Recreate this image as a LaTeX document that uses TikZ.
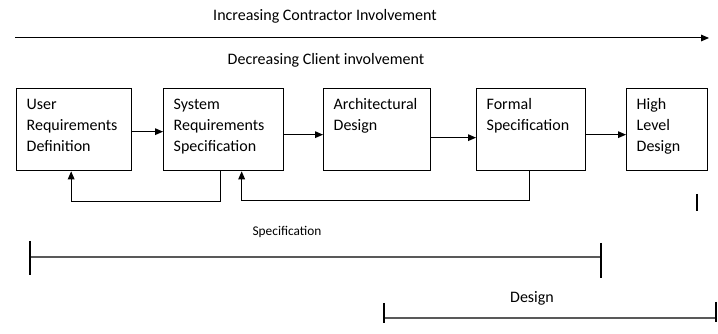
\documentclass[tikz,border=0pt]{standalone}
\usepackage{fontspec}
\setmainfont{Carlito}
\usetikzlibrary{arrows.meta,positioning}
\tikzset{
    stage/.style={
           rectangle,
           draw=black, line width=1pt,
           anchor=north west,
           align=left,
           inner xsep=7.5pt,
           inner ysep=0pt,
           text height=16pt,
           text depth=45.5pt,
           font=\fontsize{12pt}{15.75pt}\selectfont},
    % Define arrow style
    flow/.style={
           -{Triangle[length=6pt, width=5pt]},
           line width=0.75pt},
    span/.style={
           draw=black!65,
           line width=0.8pt},
    tick/.style={
           draw=black,
           line width=0.8pt},
    caption/.style={
           font=\fontsize{12pt}{14pt}\selectfont}
}

\begin{document}
\begin{tikzpicture}[x=0.75pt, y=-0.75pt]
	\useasboundingbox (0,0) rectangle (718,334);

	% involvement axis
	\coordinate (axis-start) at (15,38);
	\coordinate (axis-end) at (709,38);
	\draw[flow] (axis-start) -- (axis-end);
	\node[caption] (contractor) at (325,16) {Increasing Contractor Involvement};
	\node[caption] (client) at (326,60) {Decreasing Client involvement};

	% process stages
	\node[stage, text width=71.25pt] (urd) at (16,88) {User\\Requirements\\Definition};
	\node[stage, text width=75pt] (srs) at (163,88) {System\\Requirements\\Specification};
	\node[stage, text width=65.25pt] (ad) at (323,88) {Architectural\\Design};
	\node[stage, text width=66.75pt] (fs) at (476,88) {Formal\\Specification};
	\node[stage, text width=45.75pt] (hld) at (626,88) {High\\Level\\Design};

	\path [draw, flow] ([yshift=-1.5pt]urd.east) -- ([yshift=-1.5pt]srs.west);
	\path [draw, flow] ([yshift=-3.75pt]srs.east) -- ([yshift=-3.75pt]ad.west);
	\path [draw, flow] ([yshift=-6pt]ad.east) -- ([yshift=-6pt]fs.west);
	\path [draw, flow] ([yshift=-3.75pt]fs.east) -- ([yshift=-3.75pt]hld.west);

	% feedback loops
	\draw [flow] ([xshift=-2.25pt]srs.south) -- ++(0,30) -| ([xshift=-2.25pt]urd.south);
	\draw [flow] ([xshift=-1.5pt]fs.south) -- ++(0,29) -| ([xshift=13.5pt]srs.south);

	\draw [line width=1.5pt] (697,194) -- (697,211);

	% phase spans
	\coordinate (spec-l) at (30,257);
	\coordinate (spec-r) at (601,257);
	\draw [span] (spec-l) -- (spec-r);
	\draw [tick] (spec-l) ++(0,-16) -- ++(0,34);
	\draw [tick] (spec-r) ++(0,-14) -- ++(0,35);
	\node[font=\fontsize{10pt}{12pt}\selectfont] (spec) at (287,232) {Specification};

	\coordinate (des-l) at (384,318);
	\coordinate (des-r) at (716,318);
	\draw [span] (des-l) -- (des-r);
	\draw [tick] (des-l) ++(0,-15) -- ++(0,20);
	\draw [tick] (des-r) ++(0,-16) -- ++(0,20);
	\node[caption] (des) at (532,298) {Design};
\end{tikzpicture}
\end{document}
